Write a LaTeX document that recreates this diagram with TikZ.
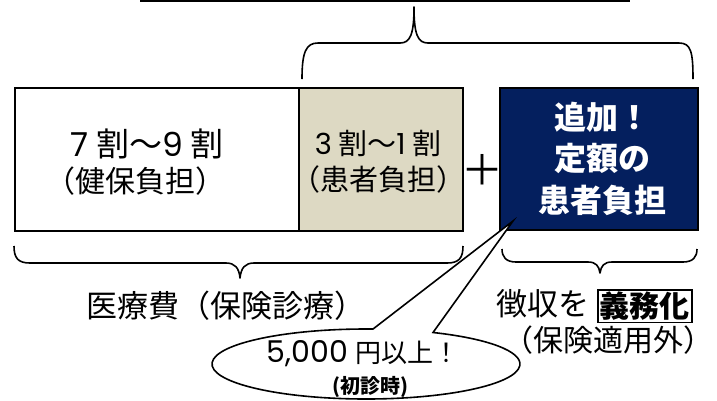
\documentclass[tikz,border=0pt]{standalone}
\usepackage{fontspec}
\setmainfont{Noto Sans CJK JP}
\newfontfamily\digits{Poppins}
\usetikzlibrary{calc}
\definecolor{beige}{RGB}{221,217,195}
\definecolor{navy}{RGB}{4,31,94}
\tikzset{
  lw/.style={line width=1.6pt},
  boxstyle/.style={draw=black, lw, inner sep=0pt, anchor=north west},
  brace/.style={draw=black, lw, line join=round},
  txt/.style={inner sep=0pt, align=center},
}
\newcommand{\fs}[1]{\fontsize{#1}{#1}\selectfont}
\newcommand{\dg}[1]{{\digits #1}}
\begin{document}
\begin{tikzpicture}[x=1pt,y=-1pt]
\useasboundingbox (0,0) rectangle (717,400);
% top line (partly cut)
\coordinate (tl1) at (140,1);
\coordinate (tl2) at (630,1);
\draw[lw] (tl1) -- (tl2);
% top brace
\draw[brace] (302,79) .. controls (302,52) and (306,43) .. (318,43) -- (400,43)
  .. controls (410,43) and (414,35) .. (414,7)
  .. controls (414,35) and (418,43) .. (428,43) -- (679,43)
  .. controls (691,43) and (693,52) .. (693,79);
% boxes
\node[boxstyle, fill=white, minimum width=284, minimum height=143] (wbox) at (14,87) {};
\node[boxstyle, fill=beige, minimum width=164, minimum height=143] (bbox) at (298,87) {};
\node[boxstyle, fill=navy, minimum width=198, minimum height=142] (nbox) at (499,87) {};
% texts in boxes
\node[txt, font=\fs{33}] (w1) at (147,144) {\dg{7} 割～\dg{9} 割};
\node[txt, font=\fs{30}] (w2) at (135,181) {（健保負担）};
\node[txt, font=\fs{29}] (b1) at (378,143) {\dg{3} 割～\dg{1} 割};
\node[txt, font=\fs{29}] (b2) at (378,179) {（患者負担）};
\node[txt, font=\fs{32}\bfseries, text=white] (n1) at (602,117) {追加！};
\node[txt, font=\fs{32}\bfseries, text=white] (n2) at (602,158) {定額の};
\node[txt, font=\fs{32}\bfseries, text=white] (n3) at (602,200) {患者負担};
% plus
\node[txt, font=\fs{42}] (plus) at (482,170) {＋};
% bottom braces
\draw[brace] (14,246) .. controls (14,258) and (18,263) .. (30,263) -- (226,263)
  .. controls (235,263) and (239,268) .. (240,278)
  .. controls (241,268) and (245,263) .. (254,263) -- (447,263)
  .. controls (459,263) and (463,258) .. (463,246);
\draw[brace] (502,249) .. controls (502,257) and (506,262) .. (516,262) -- (588,262)
  .. controls (596,262) and (599,266) .. (600,273)
  .. controls (601,266) and (604,262) .. (612,262) -- (683,262)
  .. controls (693,262) and (697,257) .. (697,249);
% labels below
\node[txt, font=\fs{31}] (med) at (226,306) {医療費（保険診療）};
\node[txt, font=\fs{31}, anchor=west] (chou) at (496,304) {徴収を};
\node[txt, draw, lw, font=\fs{30}\bfseries, inner sep=2pt, anchor=west] (gimu) at (597,306) {義務化};
\node[txt, font=\fs{30}] (hoken) at (608,340) {（保険適用外）};
% callout
\coordinate (apex) at (513,221);
\draw[lw, fill=white] ($(366,364)+({154*cos(295.8)},{35*sin(295.8)})$) -- (apex)
  -- ($(366,364)+({154*cos(272.6)},{35*sin(272.6)})$)
  arc[start angle=272.6, end angle=-64.2, x radius=154, y radius=35] -- cycle;
\node[txt] (amt) at (363,354) {\fs{30}\dg{5,000} \fs{26}円以上！};
\node[txt, font=\fs{20}\bfseries] (sho) at (370,387) {(初診時)};
\end{tikzpicture}
\end{document}
